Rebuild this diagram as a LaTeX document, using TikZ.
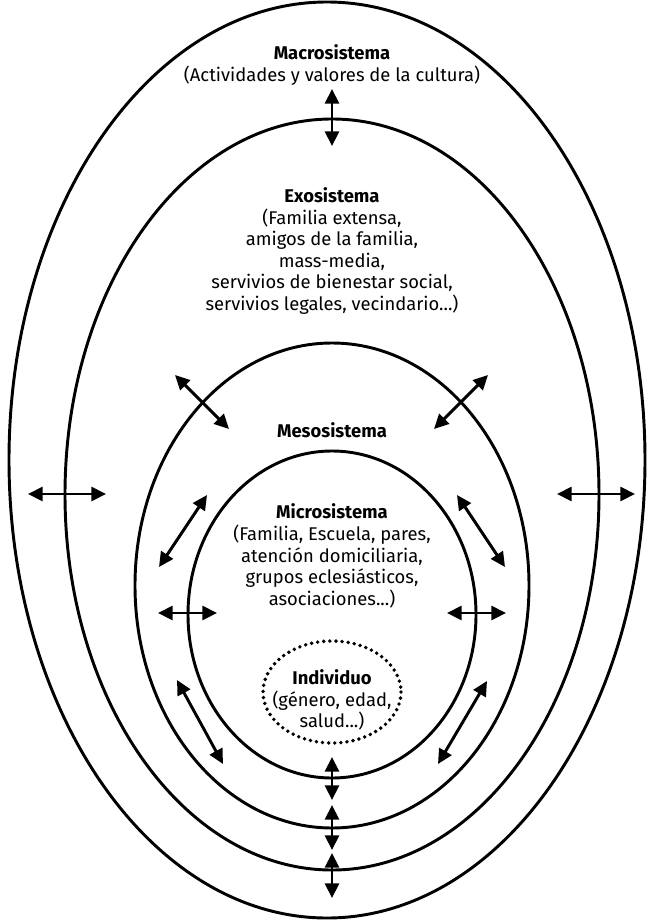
\documentclass[tikz,border=0pt]{standalone}
\usepackage{fontspec}
\setmainfont{Fira Sans}
\usetikzlibrary{arrows.meta}
\begin{document}
\begin{tikzpicture}[x=0.75pt,y=-0.75pt,
  ring/.style={line width=2.2pt},
  dotring/.style={line width=2.9pt, dash pattern=on 0pt off 4.6pt, line cap=round},
  biarrow/.style={line width=2.2pt, {Triangle[length=11pt,width=10.5pt]}-{Triangle[length=11pt,width=10.5pt]}},
  lbl/.style={align=center, font=\fontsize{13.8}{16.2}\selectfont, inner sep=0pt}]
\useasboundingbox (0,0) rectangle (648,924);
% ellipses
\draw[ring] (327,460) ellipse [x radius=318, y radius=458];
\draw[ring] (332,494.5) ellipse [x radius=267, y radius=375.5];
\draw[ring] (332,585.5) ellipse [x radius=197, y radius=242.5];
\draw[ring] (332,614.5) ellipse [x radius=144, y radius=163.5];
\draw[dotring] (332,692) ellipse [x radius=69, y radius=51];
% texts
\node[lbl] (macro) at (332,65) {\textbf{Macrosistema}\\(Actividades y valores de la cultura)};
\node[lbl] (exo) at (332,251) {\textbf{Exosistema}\\(Familia extensa,\\amigos de la familia,\\mass-media,\\servivios de bienestar social,\\servivios legales, vecindario...)};
\node[lbl] (meso) at (332,430) {\textbf{Mesosistema}};
\node[lbl] (micro) at (332,556) {\textbf{Microsistema}\\(Familia, Escuela, pares,\\atención domiciliaria,\\grupos eclesiásticos,\\asociaciones...)};
\node[lbl] (indiv) at (332,700) {\textbf{Individuo}\\(género, edad,\\salud...)};
% arrow end points
\coordinate (t1) at (332,89); \coordinate (t2) at (332,146);
\coordinate (l1) at (28,494); \coordinate (l2) at (106,494);
\coordinate (r1) at (557,494); \coordinate (r2) at (635,494);
\coordinate (ul1) at (175,375); \coordinate (ul2) at (229,429);
\coordinate (ur1) at (488,375); \coordinate (ur2) at (434,429);
\coordinate (mul1) at (207,495); \coordinate (mul2) at (159,567);
\coordinate (mur1) at (457,495); \coordinate (mur2) at (505,567);
\coordinate (ml1) at (158,613); \coordinate (ml2) at (217,613);
\coordinate (mr1) at (447,613); \coordinate (mr2) at (506,613);
\coordinate (mll1) at (177,680); \coordinate (mll2) at (223,764);
\coordinate (mlr1) at (487,681); \coordinate (mlr2) at (438,764);
\coordinate (b1) at (332,757); \coordinate (b2) at (332,800);
\coordinate (b3) at (332,805); \coordinate (b4) at (332,850);
\coordinate (b5) at (332,853); \coordinate (b6) at (332,898);
\foreach \a/\b in {t1/t2,l1/l2,r1/r2,ul1/ul2,ur1/ur2,mul1/mul2,mur1/mur2,ml1/ml2,mr1/mr2,mll1/mll2,mlr1/mlr2,b1/b2,b3/b4,b5/b6}
  \draw[biarrow] (\a) -- (\b);
\end{tikzpicture}
\end{document}
